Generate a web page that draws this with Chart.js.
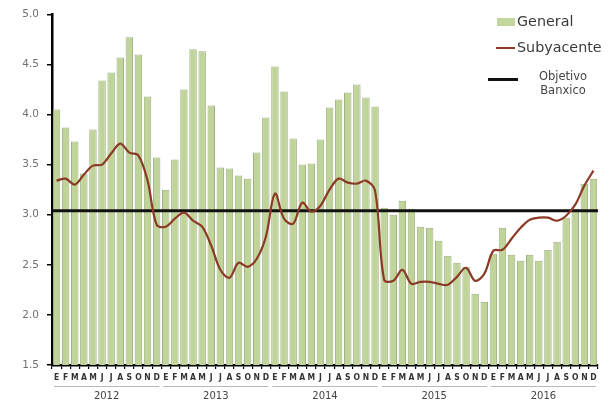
<!DOCTYPE html>
<html>
<head>
<meta charset="utf-8">
<script src="https://cdn.jsdelivr.net/npm/chart.js@4.4.1/dist/chart.umd.min.js"></script>
<style>
  html, body { margin: 0; padding: 0; background: #fff; }
  #wrap { position: relative; width: 616px; height: 404px; }
  #legend { position: absolute; left: 0; top: 0; width: 616px; height: 404px; pointer-events: none; font-family: "DejaVu Sans", sans-serif; }
  .lg { position: absolute; color: #3a3a3a; white-space: nowrap; }
</style>
</head>
<body>
<div id="wrap">
  <canvas id="c" width="616" height="404"></canvas>
  <div id="legend">
    <div style="position:absolute;left:497px;top:18px;width:18px;height:8px;background:#c3d69b;"></div>
    <div class="lg" style="left:517px;top:13px;font-size:13.5px;transform:scaleX(1.06);transform-origin:left;">General</div>
    <div style="position:absolute;left:496px;top:47px;width:19px;height:2px;background:#8b3a26;"></div>
    <div class="lg" style="left:517px;top:39px;font-size:13.5px;transform:scaleX(1.06);transform-origin:left;">Subyacente</div>
    <div style="position:absolute;left:488px;top:78px;width:30px;height:3px;background:#111;"></div>
    <div class="lg" style="left:527px;top:69px;width:72px;text-align:center;font-size:11.5px;line-height:14px;color:#444;white-space:normal;">Objetivo<br>Banxico</div>
  </div>
</div>
<script>
// ---- Data ----
const years = ["2012", "2013", "2014", "2015", "2016"];
const monthLetters = ["E", "F", "M", "A", "M", "J", "J", "A", "S", "O", "N", "D"];

const general2012 = [4.05, 3.87, 3.73, 3.41, 3.85, 4.34, 4.42, 4.57, 4.77, 4.60, 4.18, 3.57];
const general2013 = [3.25, 3.55, 4.25, 4.65, 4.63, 4.09, 3.47, 3.46, 3.39, 3.36, 3.62, 3.97];
const general2014 = [4.48, 4.23, 3.76, 3.50, 3.51, 3.75, 4.07, 4.15, 4.22, 4.30, 4.17, 4.08];
const general2015 = [3.07, 3.00, 3.14, 3.06, 2.88, 2.87, 2.74, 2.59, 2.52, 2.48, 2.21, 2.13];
const general2016 = [2.61, 2.87, 2.60, 2.54, 2.60, 2.54, 2.65, 2.73, 2.97, 3.06, 3.31, 3.36];

const subyacente2012 = [3.34, 3.36, 3.30, 3.40, 3.49, 3.50, 3.61, 3.71, 3.62, 3.59, 3.34, 2.90];
const subyacente2013 = [2.88, 2.96, 3.02, 2.94, 2.88, 2.69, 2.45, 2.37, 2.52, 2.48, 2.56, 2.78];
const subyacente2014 = [3.21, 2.96, 2.91, 3.12, 3.03, 3.09, 3.25, 3.36, 3.32, 3.31, 3.34, 3.24];
const subyacente2015 = [2.35, 2.34, 2.45, 2.31, 2.33, 2.33, 2.31, 2.30, 2.38, 2.47, 2.34, 2.41];
const subyacente2016 = [2.64, 2.65, 2.76, 2.87, 2.95, 2.97, 2.97, 2.94, 2.99, 3.10, 3.29, 3.44];

const objetivoBanxico = 3.04;
const yTicks = [1.5, 2.0, 2.5, 3.0, 3.5, 4.0, 4.5, 5.0];

// ---- Build ----
const labels = [];
years.forEach(() => monthLetters.forEach(m => labels.push(m)));
const general = [].concat(general2012, general2013, general2014, general2015, general2016);
const subyacente = [].concat(subyacente2012, subyacente2013, subyacente2014, subyacente2015, subyacente2016);

const extras = {
  id: 'extras',
  afterDatasetDraw(chart, args) {
    if (args.index !== 1) return;
    const { ctx, chartArea, scales } = chart;
    const y = scales.y.getPixelForValue(objetivoBanxico);
    ctx.save();
    ctx.strokeStyle = '#111';
    ctx.lineWidth = 3;
    ctx.beginPath();
    ctx.moveTo(chartArea.left, y);
    ctx.lineTo(chartArea.right, y);
    ctx.stroke();
    ctx.restore();
  },
  afterDraw(chart) {
    const { ctx, scales } = chart;
    const x = scales.x;
    ctx.save();
    ctx.fillStyle = '#444';
    ctx.font = '10px "DejaVu Sans", sans-serif';
    ctx.textAlign = 'center';
    ctx.textBaseline = 'middle';
    const half = (x.getPixelForValue(1) - x.getPixelForValue(0)) / 2;
    years.forEach((yr, i) => {
      const i0 = i * 12;
      const x0 = x.getPixelForValue(i0) - half + 2;
      const x1 = x.getPixelForValue(i0 + 11) + half - 2;
      ctx.strokeStyle = '#b8b8b8';
      ctx.lineWidth = 1;
      ctx.beginPath();
      ctx.moveTo(x0, 386.5);
      ctx.lineTo(x1, 386.5);
      ctx.stroke();
      const cx = (x.getPixelForValue(i0 + 5) + x.getPixelForValue(i0 + 6)) / 2;
      ctx.fillText(yr, cx, 396);
    });
    ctx.restore();
  }
};

new Chart(document.getElementById('c'), {
  type: 'bar',
  data: {
    labels: labels,
    datasets: [
      {
        type: 'line',
        label: 'Subyacente',
        data: subyacente,
        borderColor: '#8b3a26',
        borderWidth: 2.2,
        pointRadius: 0,
        tension: 0.35,
        fill: false
      },
      {
        type: 'bar',
        label: 'General',
        data: general,
        backgroundColor: '#c0d499',
        borderColor: '#9db07f',
        borderWidth: 1,
        barPercentage: 0.82,
        categoryPercentage: 1.0
      }
    ]
  },
  options: {
    responsive: false,
    animation: false,
    layout: { padding: { left: 0, right: 18, top: 11, bottom: 0 } },
    plugins: { legend: { display: false }, tooltip: { enabled: false } },
    scales: {
      x: {
        grid: { drawOnChartArea: false, drawTicks: true, tickLength: 4, color: '#000', lineWidth: 1.2, offset: true },
        border: { color: '#000', width: 2.5 },
        ticks: {
          autoSkip: false, maxRotation: 0, minRotation: 0, padding: 4,
          color: '#333',
          font: { family: '"DejaVu Sans Condensed", "DejaVu Sans", sans-serif', size: 8.5, weight: 'bold' }
        },
        afterFit(s) { s.height = 39; }
      },
      y: {
        min: 1.5, max: 5.0,
        afterBuildTicks(s) { s.ticks = yTicks.map(v => ({ value: v })); },
        grid: { drawOnChartArea: false, drawTicks: true, tickLength: 5, color: '#000', lineWidth: 1.5 },
        border: { color: '#000', width: 2.5 },
        ticks: {
          padding: 8,
          color: '#707070',
          font: { family: '"DejaVu Sans", sans-serif', size: 10.5 },
          callback: v => Number(v).toFixed(1)
        },
        afterFit(s) { s.width = 52; }
      }
    }
  },
  plugins: [extras]
});
</script>
</body>
</html>
